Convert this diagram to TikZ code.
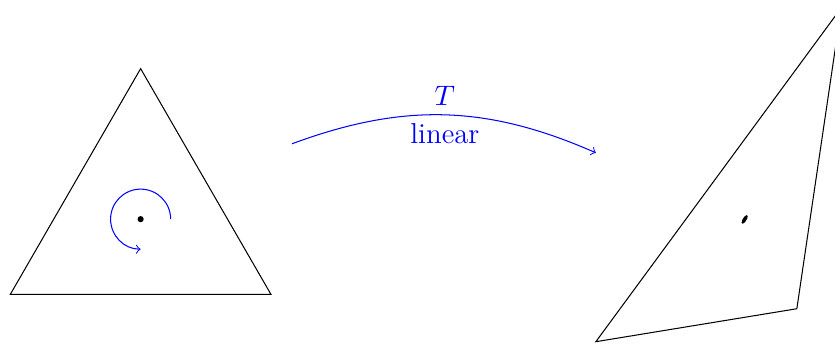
\documentclass[tikz,border=0pt]{standalone}
\usepackage{amssymb}
\usepackage{tikz}
\tikzstyle{edge}=[draw=black]
\tikzstyle{map}=[color=blue, ->]
\tikzstyle{dot}=[fill=black]
\tikzstyle{label}=[font=\fontsize{11.2}{13.5}\selectfont]

\begin{document}
\begin{tikzpicture}
			\useasboundingbox (0, 0) rectangle (11.40, 4.72);
			\clip (0, 0) rectangle (11.40, 4.72);
			\coordinate (0) at (0.14, 0.70);
			\coordinate (1) at (3.70, 0.70);
			\coordinate (2) at (1.92, 3.783);
			\coordinate (3) at (8.135, 0.055);
			\coordinate (4) at (10.879, 0.505);
			\coordinate (5) at (11.486, 4.614);
			\coordinate (6) at (1.92, 1.728);
			\coordinate (7) at (3.986, 2.757);
			\coordinate (8) at (8.135, 2.634);
			\draw [style=edge] (0) -- (1) -- (2) -- cycle;
			\draw [style=edge] (3) -- (4) -- (5) -- cycle;
			\fill [style=dot] (6) circle (1.2pt);
			\fill [style=dot, cm={0.771,0.126,0.642,1.406,(10.167,1.725)}] (0, 0) circle (1.2pt);
			\draw [style=map] (6) ++(0:0.41) arc (0:270:0.41);
			\draw [style=map, bend left=22] (7) to node [style=label, above] {$T$} node [style=label, below] {linear} (8);
			\end{tikzpicture}
\end{document}
